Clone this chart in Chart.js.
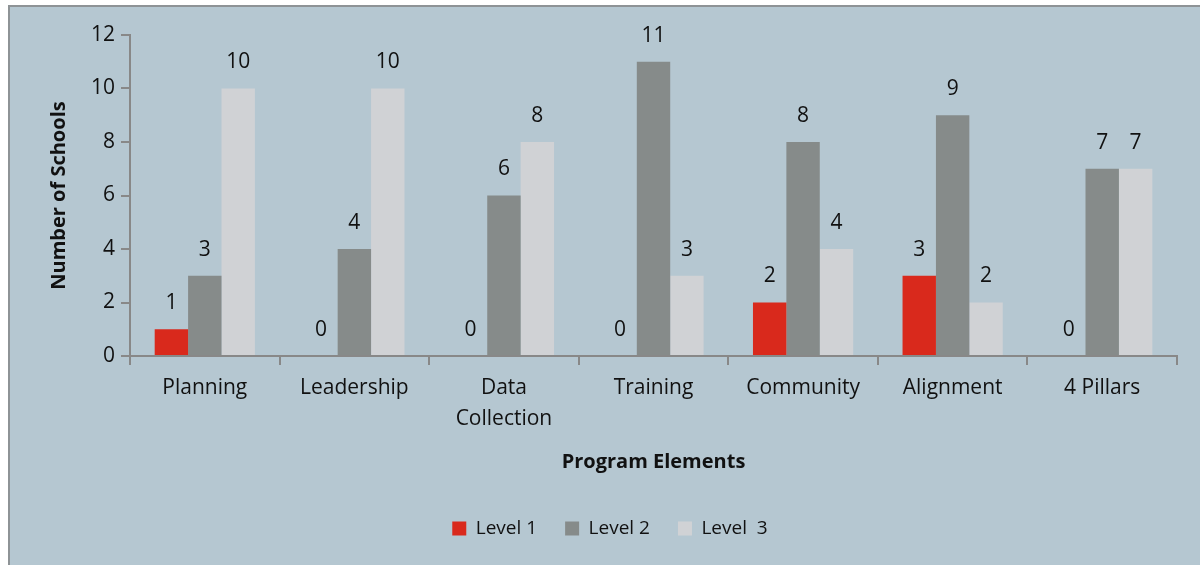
<!DOCTYPE html>
<html lang="en">
<head>
    <meta charset="UTF-8">
    <title>Program Elements</title>
    <script src="https://cdn.jsdelivr.net/npm/chart.js"></script>
    <style>
        body {
            margin: 0;
            background: #ffffff;
        }

        .panel {
            position: absolute;
            left: 8px;
            top: 5px;
            width: 1192px;
            height: 560px;
            background-color: #b5c7d1;
            border-left: 2px solid #8e9396;
            border-top: 2px solid #8e9396;
        }
    </style>
</head>
<body>
    <div class="panel">
        <canvas id="chart" width="1192" height="560"></canvas>
    </div>

    <script>
        const categories = ['Planning', 'Leadership', ['Data', 'Collection'], 'Training', 'Community', 'Alignment', '4 Pillars'];
        const level1 = [1, 0, 0, 0, 2, 3, 0];
        const level2 = [3, 4, 6, 11, 8, 9, 7];
        const level3 = [10, 10, 8, 3, 4, 2, 7];
        const yTicks = [0, 2, 4, 6, 8, 10, 12];

        const fontFamily = "'Open Sans', sans-serif";

        // value labels above every bar, zeros included
        const valueLabels = {
            id: 'valueLabels',
            afterDatasetsDraw(chart) {
                const ctx = chart.ctx;
                ctx.save();
                ctx.fillStyle = '#111';
                ctx.font = '21px ' + fontFamily;
                ctx.textAlign = 'center';
                ctx.textBaseline = 'middle';
                chart.data.datasets.forEach((ds, i) => {
                    chart.getDatasetMeta(i).data.forEach((bar, j) => {
                        ctx.fillText(ds.data[j], bar.x, bar.y - 26);
                    });
                });
                ctx.restore();
            }
        };

        new Chart(document.getElementById('chart'), {
            type: 'bar',
            data: {
                labels: categories,
                datasets: [
                    { label: 'Level 1', data: level1, backgroundColor: '#d9291c' },
                    { label: 'Level 2', data: level2, backgroundColor: '#868b8a' },
                    { label: 'Level  3', data: level3, backgroundColor: '#d0d2d5' }
                ]
            },
            options: {
                responsive: false,
                animation: false,
                categoryPercentage: 0.67,
                barPercentage: 1.0,
                layout: {
                    padding: { top: 28, right: 25, left: 33, bottom: 19 }
                },
                scales: {
                    y: {
                        min: 0,
                        max: 12,
                        afterBuildTicks: axis => { axis.ticks = yTicks.map(v => ({ value: v })); },
                        border: { color: '#888', width: 2 },
                        grid: { drawOnChartArea: false, color: '#888', tickLength: 9, lineWidth: 2 },
                        ticks: { color: '#111', font: { family: fontFamily, size: 21 }, padding: 6 },
                        title: {
                            display: true,
                            text: 'Number of Schools',
                            color: '#111',
                            font: { family: fontFamily, size: 20, weight: 'bold' },
                            padding: { bottom: 14 }
                        }
                    },
                    x: {
                        border: { color: '#888', width: 2 },
                        grid: { drawOnChartArea: false, color: '#888', tickLength: 9, lineWidth: 2, offset: true },
                        ticks: { color: '#111', font: { family: fontFamily, size: 21, lineHeight: 1.5 }, padding: 7, maxRotation: 0 },
                        title: {
                            display: true,
                            text: 'Program Elements',
                            color: '#111',
                            font: { family: fontFamily, size: 20, weight: 'bold' },
                            padding: { top: 8, bottom: 17 }
                        }
                    }
                },
                plugins: {
                    legend: {
                        position: 'bottom',
                        labels: {
                            color: '#111',
                            font: { family: fontFamily, size: 19 },
                            boxWidth: 14,
                            boxHeight: 14,
                            padding: 28
                        }
                    },
                    tooltip: { enabled: false }
                }
            },
            plugins: [valueLabels]
        });
    </script>
</body>
</html>
